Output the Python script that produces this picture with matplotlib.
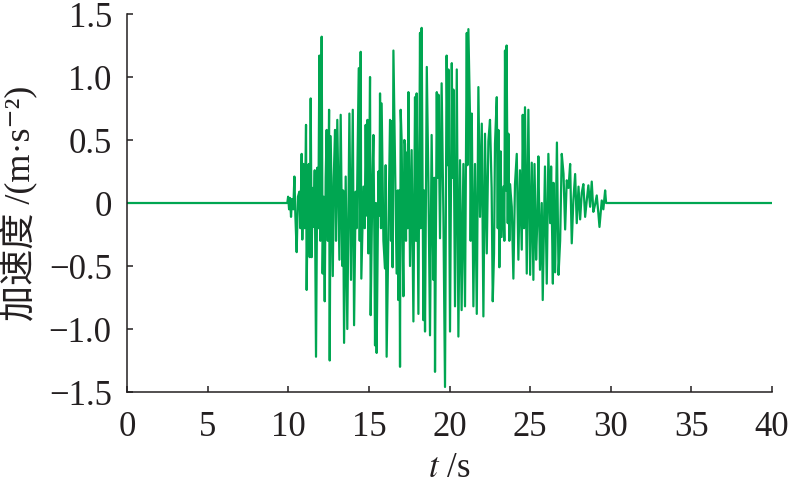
import matplotlib
matplotlib.use("Agg")
import matplotlib.pyplot as plt

plt.rcParams['font.family'] = ['Liberation Serif', 'DejaVu Serif', 'Noto Sans CJK SC']
plt.rcParams['mathtext.fontset'] = 'stix'

# acceleration record (t in s, a in m/s^2)
t_vals = [0.0, 9.94, 9.99, 10.05, 10.11, 10.17, 10.23, 10.31, 10.38, 10.44, 10.52,
          10.60, 10.69, 10.75, 10.83, 10.87, 10.94, 11.02, 11.10, 11.14, 11.21,
          11.23, 11.27, 11.33, 11.39, 11.45, 11.51, 11.58, 11.64, 11.72, 11.80,
          11.86, 11.93, 11.99, 12.07, 12.13, 12.20, 12.26, 12.32, 12.38, 12.45,
          12.53, 12.57, 12.63, 12.70, 12.76, 12.82, 12.90, 12.96, 13.04, 13.17,
          13.25, 13.35, 13.40, 13.46, 13.56, 13.66, 13.79, 13.89, 14.00, 14.08,
          14.18, 14.24, 14.37, 14.43, 14.49, 14.53, 14.66, 14.74, 14.80, 14.86,
          14.91, 14.97, 15.07, 15.11, 15.22, 15.28, 15.34, 15.38, 15.44, 15.48,
          15.59, 15.65, 15.69, 15.75, 15.79, 15.90, 16.00, 16.04, 16.10,
          16.31, 16.37, 16.41, 16.47, 16.52, 16.62, 16.72, 16.79, 16.82, 16.89,
          16.93, 16.97, 17.03, 17.09, 17.14, 17.20, 17.24, 17.30, 17.34, 17.40,
          17.45, 17.55, 17.65, 17.76, 17.86, 17.92, 17.96, 18.07, 18.17, 18.21,
          18.27, 18.38, 18.42, 18.48, 18.59, 18.69, 18.79, 18.89, 19.00, 19.06,
          19.10, 19.21, 19.25, 19.31, 19.41, 19.51, 19.62, 19.72, 19.82, 19.89,
          19.93, 20.03, 20.14, 20.20, 20.24, 20.34, 20.45, 20.55, 20.65, 20.75,
          20.86, 20.96, 21.07, 21.11, 21.17, 21.27, 21.31, 21.38, 21.48, 21.58,
          21.69, 21.79, 21.89, 22.00, 22.10, 22.20, 22.31, 22.41,
          22.51, 22.61, 22.68, 22.76, 22.82, 22.93, 22.99, 23.03, 23.09, 23.17,
          23.23, 23.34, 23.40, 23.44, 23.50, 23.54, 23.61, 23.65, 23.71, 23.75,
          23.86, 23.96, 24.06, 24.17, 24.27, 24.37, 24.48, 24.54, 24.62, 24.68,
          24.79, 24.89, 25.00, 25.10, 25.20, 25.27, 25.37, 25.45, 25.51, 25.61,
          25.72, 25.78, 25.92, 26.03, 26.13, 26.24, 26.30, 26.41, 26.45, 26.55,
          26.66, 26.76, 26.86, 26.96, 27.07, 27.17, 27.27, 27.38, 27.48, 27.58,
          27.68, 27.79, 27.89, 28.00, 28.10, 28.20, 28.30, 28.41, 28.51, 28.61,
          28.72, 28.82, 28.92, 29.03, 29.13, 29.23, 29.30, 29.44, 29.54, 29.65,
          29.71, 29.85, 40.0]

acc_vals = [0.0, 0.0, 0.05, -0.05, 0.04, -0.11, 0.03, -0.05, 0.21, -0.10, -0.39,
            0.05, 0.09, -0.20, 0.39, -0.29, 0.31, -0.20, 0.62, -0.69, 0.10,
            -0.15, 0.31, -0.43, 0.83, -0.43, 0.12, -0.19, 0.26, -1.22, 0.28,
            -0.20, 1.17, -0.30, 1.32, -0.56, 0.05, -0.78, 0.20, 0.58, -0.30,
            0.74, -1.25, 0.53, -0.10, -0.58, 0.20, 0.58, -0.30, 0.66, -0.45,
            0.70, -0.50, 0.10, -1.11, 0.21, -1.00, 0.71, -0.61, 0.74, -0.97,
            0.09, -0.20, 1.07, -0.30, 1.20, -0.60, 0.13, -0.20, 0.62, -0.10,
            0.66, -0.40, 1.00, -0.89, 0.20, 0.54, -0.30, -1.13, 0.00, -1.19,
            0.25, -0.10, 0.87, -0.20, 0.79, -0.30, -0.52, 0.30, -1.22,
            0.66, -0.30, 0.65, -0.51, 1.21, 0.34, -0.56, 0.10, -0.77, 0.10,
            -1.30, 0.74, 0.50, -0.30, -0.74, 0.50, 0.47, -0.30, 0.40, -0.20,
            0.88, -0.50, 0.42, -0.94, 0.84, -0.30, 0.87, -0.88, 1.35, -0.20,
            1.39, -0.93, 0.10, -1.02, 1.08, 0.16, -1.05, 0.54, -0.61, 0.20,
            -1.34, 0.88, 0.20, 0.86, -0.28, 0.95, -0.10, -1.46, 1.17, 0.30,
            1.06, -1.02, 1.11, 0.20, 0.90, -0.82, 1.06, -1.06, 0.34, -0.85,
            0.31, -0.82, 1.35, 0.30, 1.38, 0.69, -0.30, 0.71, -0.82, 0.31,
            -0.88, 0.92, -0.11, 0.63, -0.90, 0.55, -0.40, 0.49,
            0.66, 0.12, -0.78, -0.40, 0.47, 0.84, -0.20, 0.58, -0.51, 0.41,
            -0.27, 0.13, -0.30, 1.21, 0.10, 1.25, -0.16, 0.55, -0.30, 0.15,
            -0.03, -0.60, 0.15, 0.39, -0.45, 0.26, -0.37, 0.70, -0.20, 0.76,
            -0.56, 0.74, -0.57, 0.32, -0.61, 0.31, -0.45, -0.11, 0.37, -0.53,
            0.00, -0.77, 0.29, -0.64, 0.39, -0.16, 0.29, -0.64, 0.16, -0.55,
            0.48, -0.57, -0.30, 0.39, 0.23, -0.21, 0.18, 0.12, 0.31, -0.32,
            0.02, 0.23, -0.16, 0.13, -0.13, 0.08, 0.15, -0.11, 0.02, 0.14,
            -0.03, 0.17, -0.07, -0.01, 0.06, -0.08, -0.19, 0.02, -0.05, 0.10,
            0.00, 0.00, 0.00]

x_ticks = [0, 5, 10, 15, 20, 25, 30, 35, 40]
y_ticks = [-1.5, -1.0, -0.5, 0, 0.5, 1.0, 1.5]
y_labels = ['\u22121.5', '\u22121.0', '\u22120.5', '0', '0.5', '1.0', '1.5']

txt = '#231f20'

fig = plt.figure(figsize=(7.91, 4.88), dpi=100)
ax = fig.add_axes([0.1606, 0.1967, 0.8154, 0.7746])

ax.plot(t_vals, acc_vals, color='#00a651', linewidth=1.6)

ax.set_xlim(0, 40)
ax.set_ylim(-1.5, 1.5)
ax.set_xticks(x_ticks)
ax.set_xticklabels([str(v) for v in x_ticks])
ax.set_yticks(y_ticks)
ax.set_yticklabels(y_labels)

for side in ['top', 'right']:
    ax.spines[side].set_visible(False)
for side in ['left', 'bottom']:
    ax.spines[side].set_linewidth(1.1)
    ax.spines[side].set_color(txt)

ax.tick_params(direction='in', length=4, width=1.1, colors=txt, labelsize=25)
ax.tick_params(axis='x', pad=14)
ax.tick_params(axis='y', pad=11)

ax.set_xlabel('$t$ /s', fontsize=25, color=txt)
ax.xaxis.set_label_coords(0.5, -0.158)
ax.set_ylabel('加速度 /(m\u00b7s\u207b\u00b2)', fontsize=26, color=txt)
ax.yaxis.set_label_coords(-0.137, 0.5)

fig.savefig('out.png', dpi=100)
